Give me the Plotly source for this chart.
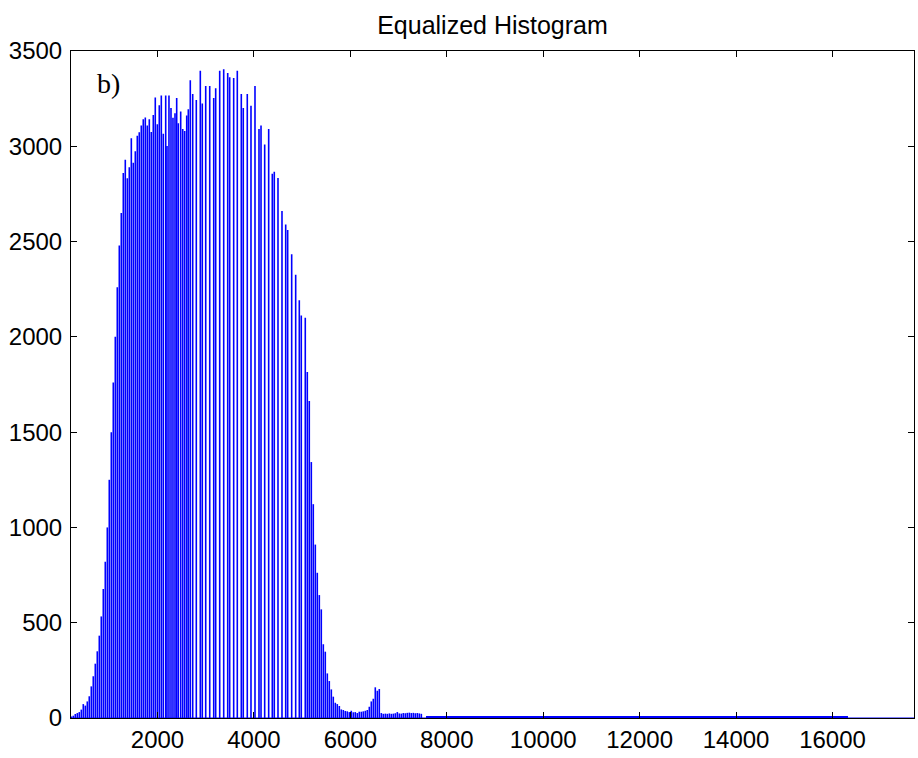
import plotly.graph_objects as go

# ---- data ----
bin_centers = [
    212, 254, 295, 337, 378, 420, 461, 503, 544, 585, 627, 668, 710, 751, 793, 834, 876, 917,
    959, 1000, 1042, 1083, 1125, 1166, 1208, 1249, 1291, 1332, 1374, 1415, 1457, 1498, 1540,
    1581, 1622, 1664, 1705, 1747, 1788, 1830, 1871, 1913, 1954, 1996, 2037, 2079, 2120,
    2170, 2197, 2238, 2280, 2321, 2363, 2398, 2431, 2481, 2523, 2564, 2606, 2639, 2680, 2730,
    2805, 2888, 2929, 3000, 3083, 3166, 3207, 3290, 3373, 3456, 3497, 3580, 3655, 3738, 3779,
    3862, 3939, 4022, 4105, 4147, 4223, 4306, 4381, 4422, 4499, 4582, 4659, 4700, 4783, 4866,
    4941, 4982, 5065, 5107, 5148, 5190, 5231, 5273, 5314, 5356, 5397, 5439, 5480, 5522, 5563,
    5605, 5646, 5688, 5729, 5771, 5812, 5854, 5895, 5936, 5978, 6019, 6061, 6102, 6144, 6185,
    6227, 6268, 6310, 6351, 6393, 6434, 6476, 6517, 6559, 6600, 6642,
    6683, 6725, 6766, 6808, 6849, 6891, 6932, 6974, 7015, 7057, 7098, 7140, 7181, 7223, 7264,
    7306, 7347, 7389, 7430, 7472,
]
counts = [
    8, 12, 21, 26, 31, 44, 73, 65, 87, 114, 166, 219, 285, 350, 432, 533, 677, 820,
    1000, 1250, 1500, 1760, 2000, 2260, 2480, 2650, 2860, 2930, 2832, 2890, 3042, 2914, 2974,
    3055, 3073, 3109, 3142, 3151, 3109, 3142, 3075, 3164, 3256, 3115, 3215, 3267, 3066,
    3266, 3001, 3266, 3201, 3150, 3174, 3254, 3121, 3183, 3091, 3080, 3162, 3194, 3346, 3275,
    3243, 3397, 3224, 3316, 3316, 3254, 3305, 3397, 3404, 3385, 3362, 3358, 3397, 3275, 3201,
    3275, 3213, 3316, 3091, 3109, 3010, 3091, 2856, 2867, 2833, 2660, 2590, 2561, 2434, 2326,
    2192, 2112, 2100, 1815, 1663, 1343, 1122, 910, 762, 645, 570, 387, 348, 234, 194,
    150, 112, 80, 73, 63, 45, 42, 37, 35, 31, 38, 30, 31, 26, 33,
    33, 35, 38, 42, 59, 87, 101, 161, 143, 152, 26,
    22, 23, 22, 24, 22, 23, 25, 31, 24, 23, 26, 25, 27, 28, 26, 27, 25, 26, 24, 22,
]

# sparse far tail (wide bins)
tail_centers = [
    7695, 7945, 8195, 8445, 8695, 8945, 9195, 9445, 9695, 9945, 10195, 10445, 10695, 10945,
    11195, 11445, 11695, 11945, 12195, 12445, 12695, 12945, 13195, 13445, 13695, 13945,
    14195, 14445, 14695, 14945, 15195, 15445, 15695, 15945, 16195,
]
tail_counts = [
    9, 8, 9, 9, 10, 9, 8, 9, 9, 9, 10, 9, 9, 8, 9, 9, 9, 10, 9, 9, 8, 9, 9, 9, 9, 10, 9, 9,
    8, 9, 9, 9, 9, 8, 9,
]

x_ticks = [2000, 4000, 6000, 8000, 10000, 12000, 14000, 16000]
y_ticks = [0, 500, 1000, 1500, 2000, 2500, 3000, 3500]
x_range = [206, 17690]
y_range = [0, 3500]

BLUE = "#0000FF"
FONT = "Liberation Sans, Arial, sans-serif"

# stems: one vertical segment per bin, built from the data lists
stem_x, stem_y = [], []
for xc, c in zip(bin_centers, counts):
    stem_x += [xc, xc, None]
    stem_y += [0, c, None]

fig = go.Figure()
fig.add_trace(go.Scatter(x=stem_x, y=stem_y, mode="lines", line=dict(color=BLUE, width=1.6),
                         showlegend=False, hoverinfo="skip"))
fig.add_trace(go.Bar(x=tail_centers, y=tail_counts, width=[250] * len(tail_centers),
                     marker=dict(color=BLUE, line=dict(width=0)), showlegend=False))
# baseline
fig.add_trace(go.Scatter(x=x_range, y=[0, 0], mode="lines",
                         line=dict(color=BLUE, width=1.2), showlegend=False, hoverinfo="skip"))

axis_common = dict(showline=True, linecolor="black", linewidth=1, mirror="allticks",
                   ticks="inside", ticklen=6, tickcolor="black", tickwidth=1,
                   showgrid=False, zeroline=False,
                   tickfont=dict(family=FONT, size=24, color="black"))

fig.update_layout(
    width=918, height=758,
    margin=dict(l=71, r=4, t=51, b=40),
    paper_bgcolor="white", plot_bgcolor="white",
    barmode="overlay", bargap=0,
    title=dict(text="Equalized Histogram", x=0.5365, xanchor="center",
               y=0.967, yanchor="middle", yref="container",
               font=dict(family=FONT, size=25, color="black")),
    xaxis=dict(range=x_range, tickvals=x_ticks, ticktext=[str(v) for v in x_ticks], **axis_common),
    yaxis=dict(range=y_range, tickvals=y_ticks, ticktext=[str(v) for v in y_ticks],
               ticklabelstandoff=3, **axis_common),
    annotations=[dict(text="b)", xref="paper", yref="paper", x=0.028, y=0.951,
                      xanchor="left", yanchor="middle", showarrow=False,
                      font=dict(family="Liberation Serif, Times New Roman, serif", size=28,
                                color="black"))],
)

fig.write_html("out.html")
